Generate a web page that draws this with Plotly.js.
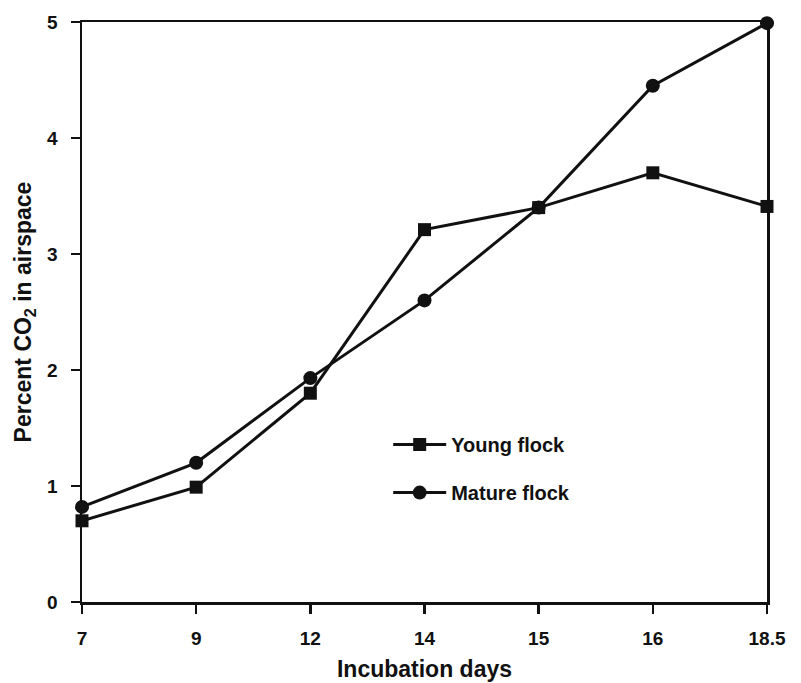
<!DOCTYPE html>
<html><head><meta charset="utf-8">
<script src="https://cdn.plot.ly/plotly-3.0.1.min.js"></script>
<style>body{margin:0;background:#fff}#chart{width:801px;height:683px}</style>
</head><body><div id="chart"></div>
<script>
const days = ["7", "9", "12", "14", "15", "16", "18.5"];
const youngFlock = [0.70, 0.99, 1.80, 3.21, 3.40, 3.70, 3.41];
const matureFlock = [0.82, 1.20, 1.93, 2.60, 3.40, 4.45, 4.99];
const yTicks = [0, 1, 2, 3, 4, 5];

const FONT = "Liberation Sans, Arial, sans-serif";
const traces = [
  {x: days, y: youngFlock, name: "Young flock", mode: "lines+markers", legendgroup: "a",
   line: {color: "#111", width: 3}, marker: {symbol: "square", size: 13, color: "#111"}, cliponaxis: false},
  {x: days, y: matureFlock, name: "Mature flock", mode: "lines+markers", legendgroup: "b",
   line: {color: "#111", width: 3}, marker: {symbol: "circle", size: 14, color: "#111"}, cliponaxis: false}
];
const layout = {
  width: 801, height: 683,
  margin: {l: 82, r: 34, t: 22, b: 81},
  paper_bgcolor: "#fff", plot_bgcolor: "#fff",
  font: {family: FONT, color: "#111"},
  showlegend: true,
  legend: {x: 0.447, y: 0.305, xanchor: "left", yanchor: "top", bgcolor: "rgba(0,0,0,0)",
    font: {size: 20, family: FONT, weight: "bold"}, tracegroupgap: 19, traceorder: "grouped", itemwidth: 53},
  xaxis: {type: "category", categoryorder: "array", categoryarray: days, range: [0, 6],
    showgrid: false, zeroline: false, showline: true, linecolor: "#111", linewidth: 2.5, mirror: true,
    ticks: "outside", ticklen: 9, tickwidth: 2.5, tickcolor: "#111", ticklabelstandoff: 9,
    tickfont: {size: 19, family: FONT, weight: "bold"},
    title: {text: "Incubation days", font: {size: 23, family: FONT, weight: "bold"}, standoff: 13}},
  yaxis: {range: [0, 5], tickvals: yTicks, showgrid: false, zeroline: false,
    showline: true, linecolor: "#111", linewidth: 2.5, mirror: true,
    ticks: "outside", ticklen: 9, tickwidth: 2.5, tickcolor: "#111", ticklabelstandoff: 9,
    tickfont: {size: 19, family: FONT, weight: "bold"},
    title: {text: "Percent CO<sub>2</sub> in airspace", font: {size: 23, family: FONT, weight: "bold"}, standoff: 9}}
};
Plotly.newPlot("chart", traces, layout, {displayModeBar: false, staticPlot: true});
</script></body></html>
